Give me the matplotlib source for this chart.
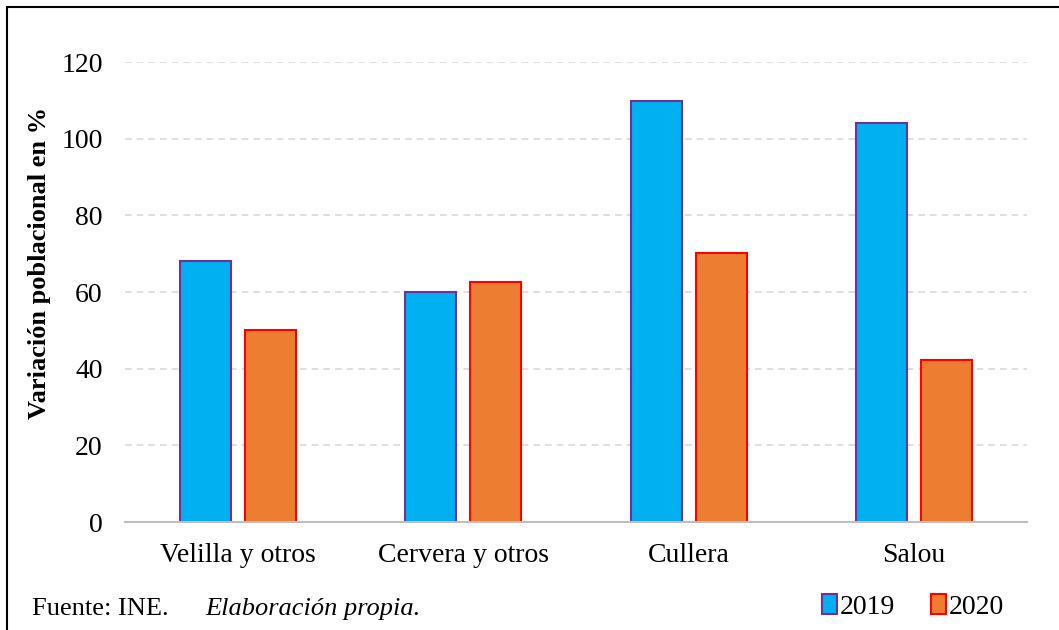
import matplotlib.pyplot as plt
import numpy as np
from matplotlib.patches import Rectangle

plt.rcParams['font.family'] = ['Liberation Serif', 'DejaVu Serif']

categorias = ["Velilla y otros", "Cervera y otros", "Cullera", "Salou"]
v2019 = [68.2, 60.0, 109.9, 104.2]
v2020 = [50.1, 62.5, 70.2, 42.3]
etiquetas = ["2019", "2020"]

fig = plt.figure(figsize=(10.59, 6.30), dpi=100)
ax = fig.add_axes([125 / 1059, 1 - 522 / 630, 902 / 1059, 460 / 630])

x = np.arange(len(categorias))
w = 0.226
off = 0.144
b1 = ax.bar(x - off, v2019, w, color="#00B0F0", edgecolor="#7030A0", linewidth=1.5, zorder=3)
b2 = ax.bar(x + off, v2020, w, color="#ED7D31", edgecolor="#FF0000", linewidth=1.5, zorder=3)

ax.set_xlim(-0.5, 3.5)
ax.set_ylim(0, 120)
ax.set_yticks(range(0, 121, 20))
ax.set_xticks(x)
ax.set_xticklabels(categorias)
ax.tick_params(axis="both", length=0, labelsize=20, colors="black")
ax.tick_params(axis="y", pad=16)
ax.tick_params(axis="x", pad=15)
ax.yaxis.grid(True, linestyle=(0, (4, 3)), color="#D9D9D9", linewidth=1.2, zorder=0)
for s in ["top", "right", "left"]:
    ax.spines[s].set_visible(False)
ax.spines["bottom"].set_color("#BFBFBF")
ax.spines["bottom"].set_linewidth(1.5)
ax.spines["bottom"].set_zorder(4)

ax.set_ylabel("Variación poblacional en %", fontsize=19, fontweight="bold", va="center")
ax.yaxis.set_label_coords((40 - 125) / 902, (522 - 263) / 460)

# marco exterior
fig.patches.append(Rectangle((7 / 1059, -0.1), 1.2, 1.1 - 7 / 630, transform=fig.transFigure,
                             fill=False, edgecolor="black", linewidth=1.5))

fig.text(32 / 1059, 1 - 609 / 630, "Fuente: INE.", fontsize=19, va="center")
fig.text(205 / 1059, 1 - 609 / 630, "Elaboración propia.", fontsize=19, style="italic", va="center")

leg = fig.legend([b1, b2], etiquetas, loc="center", bbox_to_anchor=(913 / 1059, 1 - 607 / 630),
                 ncol=2, frameon=False, fontsize=20, handlelength=0.55, handleheight=0.7,
                 handletextpad=0.1, columnspacing=1.3)

fig.savefig("out.png", dpi=100)
